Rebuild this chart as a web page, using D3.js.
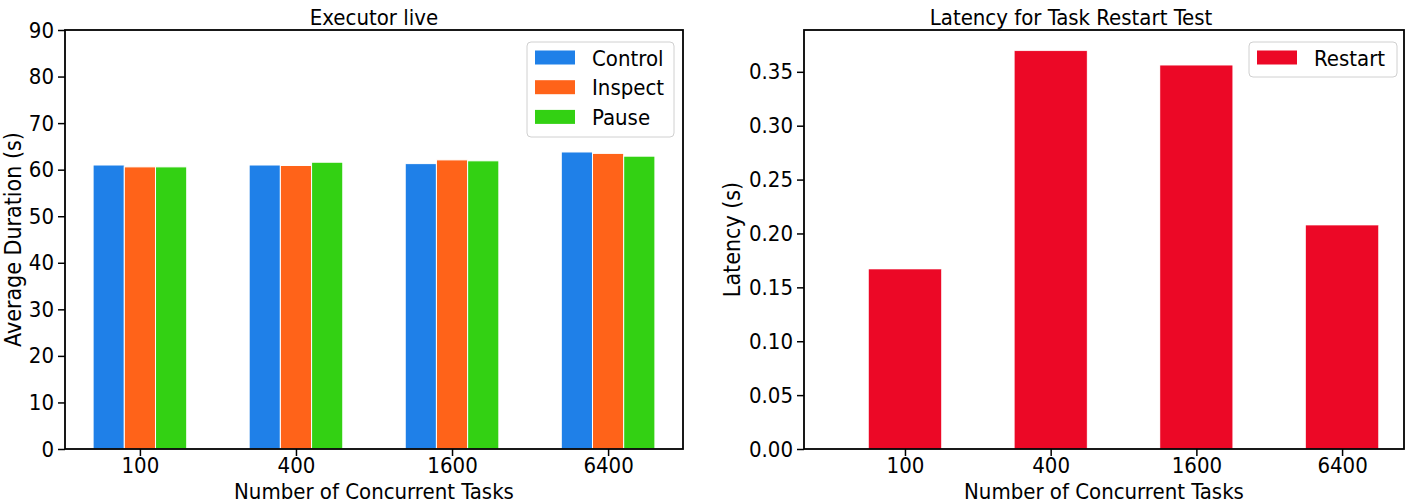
<!DOCTYPE html>
<html><head><meta charset="utf-8">
<script src="https://cdn.jsdelivr.net/npm/d3@7"></script>
<style>
body{margin:0;background:#fff;}
svg{display:block;font-family:"DejaVu Sans Condensed","DejaVu Sans",sans-serif;font-stretch:condensed;}
</style></head>
<body><svg id="c" width="1408" height="504"></svg>
<script>
const categories = ["100","400","1600","6400"];
const seriesNames = ["Control","Inspect","Pause"];
const control = [61.0, 61.0, 61.3, 63.8];
const inspect = [60.6, 60.9, 62.1, 63.5];
const pause   = [60.6, 61.6, 61.9, 62.9];
const restart = [0.167, 0.3695, 0.3562, 0.2078];
const leftTicks = [0,10,20,30,40,50,60,70,80,90];
const rightTicks = [0,0.05,0.10,0.15,0.20,0.25,0.30,0.35];
const colors = ["#1f80e8","#ff6319","#33d113"];
const restartColor = "#ec0826";

const svg = d3.select("#c");
const FF = '"DejaVu Sans Condensed","DejaVu Sans",sans-serif';
const TK = 22, AL = 22, TS = 22, LS = 22;

function frame(g, x0, x1, y0, y1){
  g.append("rect").attr("x",x0).attr("y",y0).attr("width",x1-x0).attr("height",y1-y0)
   .attr("fill","none").attr("stroke","#000").attr("stroke-width",1.8);
}
function styleAxis(a){
  a.select(".domain").remove();
  a.selectAll("text").attr("font-size",TK).attr("font-family",FF).attr("fill","#000");
  a.selectAll("line").attr("stroke","#000").attr("stroke-width",1.5);
}

// ---------- Left chart ----------
{
  const L=65,R=683,T=30,B=449;
  const x = d3.scaleLinear().domain([-0.48,3.48]).range([L,R]);
  const y = d3.scaleLinear().domain([0,90]).range([B,T]);
  const g = svg.append("g");
  const data = [control,inspect,pause];
  const w = 0.2;
  data.forEach((vals,si)=>{
    g.selectAll(null).data(vals).enter().append("rect")
      .attr("x",(d,i)=>x(i+(si-1)*w-w/2))
      .attr("width",x(w)-x(0))
      .attr("y",d=>y(d)).attr("height",d=>y(0)-y(d))
      .attr("fill",colors[si]).attr("stroke","#fff").attr("stroke-width",1);
  });
  const ya = d3.axisLeft(y).tickValues(leftTicks).tickFormat(d3.format("d")).tickSize(7).tickPadding(4);
  styleAxis(g.append("g").attr("transform",`translate(${L},0)`).call(ya));
  const xa = d3.axisBottom(x).tickValues([0,1,2,3]).tickFormat(i=>categories[i]).tickSize(7).tickPadding(1);
  styleAxis(g.append("g").attr("transform",`translate(0,${B})`).call(xa));
  frame(g,L,R,T,B);
  g.append("text").attr("x",(L+R)/2).attr("y",25).attr("text-anchor","middle").attr("font-size",TS).text("Executor live");
  g.append("text").attr("x",(L+R)/2).attr("y",498.8).attr("text-anchor","middle").attr("font-size",AL).text("Number of Concurrent Tasks");
  g.append("text").attr("transform",`translate(21,${(T+B)/2}) rotate(-90)`).attr("text-anchor","middle").attr("font-size",AL+1).text("Average Duration (s)");
  const lg = g.append("g");
  lg.append("rect").attr("x",527).attr("y",42).attr("width",147).attr("height",95).attr("rx",4)
    .attr("fill","#fff").attr("fill-opacity",0.8).attr("stroke","#d0d0d0").attr("stroke-width",1);
  seriesNames.forEach((n,i)=>{
    lg.append("rect").attr("x",535).attr("y",50.5+i*29.7).attr("width",40).attr("height",14).attr("fill",colors[i]);
    lg.append("text").attr("x",592).attr("y",65.5+i*29.7).attr("font-size",LS).text(n);
  });
}

// ---------- Right chart ----------
{
  const L=804,R=1404,T=30,B=449;
  const x = d3.scaleLinear().domain([-0.693,3.425]).range([L,R]);
  const y = d3.scaleLinear().domain([0,0.3888]).range([B,T]);
  const g = svg.append("g");
  const w = 0.5;
  g.selectAll(null).data(restart).enter().append("rect")
    .attr("x",(d,i)=>x(i-w/2)).attr("width",x(w)-x(0))
    .attr("y",d=>y(d)).attr("height",d=>y(0)-y(d))
    .attr("fill",restartColor).attr("stroke","#fff").attr("stroke-width",0.5);
  const ya = d3.axisLeft(y).tickValues(rightTicks).tickFormat(d3.format(".2f")).tickSize(7).tickPadding(4);
  styleAxis(g.append("g").attr("transform",`translate(${L},0)`).call(ya));
  const xa = d3.axisBottom(x).tickValues([0,1,2,3]).tickFormat(i=>categories[i]).tickSize(7).tickPadding(1);
  styleAxis(g.append("g").attr("transform",`translate(0,${B})`).call(xa));
  frame(g,L,R,T,B);
  g.append("text").attr("x",1071).attr("y",25).attr("text-anchor","middle").attr("font-size",TS).text("Latency for Task Restart Test");
  g.append("text").attr("x",(L+R)/2).attr("y",498.8).attr("text-anchor","middle").attr("font-size",AL).text("Number of Concurrent Tasks");
  g.append("text").attr("transform",`translate(740,${(T+B)/2}) rotate(-90)`).attr("text-anchor","middle").attr("font-size",AL+1).text("Latency (s)");
  const lg = g.append("g");
  lg.append("rect").attr("x",1249).attr("y",42).attr("width",148).attr("height",35).attr("rx",4)
    .attr("fill","#fff").attr("fill-opacity",0.8).attr("stroke","#d0d0d0").attr("stroke-width",1);
  lg.append("rect").attr("x",1257).attr("y",50.5).attr("width",40).attr("height",14).attr("fill",restartColor);
  lg.append("text").attr("x",1314).attr("y",65.5).attr("font-size",LS).text("Restart");
}
</script></body></html>
